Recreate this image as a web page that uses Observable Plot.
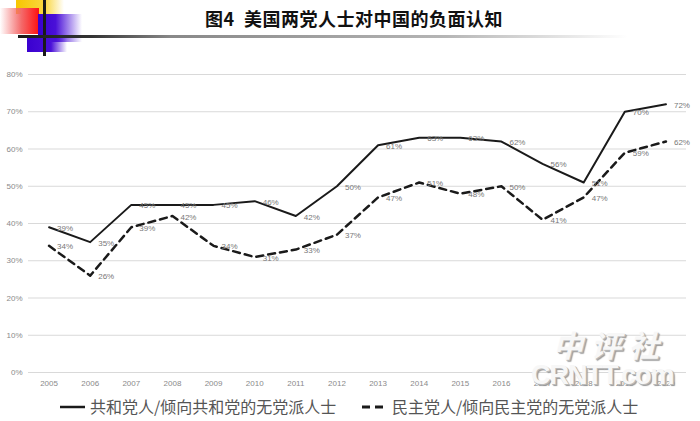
<!DOCTYPE html>
<html>
<head>
<meta charset="utf-8">
<script src="https://cdn.jsdelivr.net/npm/d3@7"></script>
<script src="https://cdn.jsdelivr.net/npm/@observablehq/plot@0.6"></script>
<style>
  html, body { margin: 0; padding: 0; background: #fff; }
  #wrap { position: relative; width: 700px; height: 421px; overflow: hidden; background: #fff;
          font-family: "Noto Sans CJK SC", "Noto Sans", sans-serif; }
  .abs { position: absolute; }
  #title { left: 0; width: 708px; top: 5px; text-align: center; font-size: 18px; font-weight: 700; color: #111; letter-spacing: 0.5px; }
  #chart { left: 0; top: 45px; }
  .leg { top: 394px; font-size: 16px; color: #555; display: flex; align-items: center; white-space: nowrap; }
  .leg svg { margin-right: 4px; }
  #wm1 { left: 553px; top: 322px; font-size: 30px; letter-spacing: 8px; color: #f7f7f7; font-style: italic; font-weight: 700;
         text-shadow: 1px 1px 0 #bbb, 2px 2px 1px #999; }
  #wm2 { left: 531px; top: 360px; font-size: 27px; letter-spacing: -1px; color: #f7f7f7; font-weight: 700; font-family: "Liberation Sans", sans-serif;
         text-shadow: 1px 1px 0 #bbb, 2px 2px 1px #999; }
</style>
</head>
<body>
<div id="wrap">
  <!-- decoration -->
  <div class="abs" style="left:16px;top:0;width:48px;height:14px;background:linear-gradient(to right,#f7c600 0%,#f9d640 60%,rgba(255,240,150,0) 100%);"></div>
  <div class="abs" style="left:0;top:8px;width:39px;height:26px;background:linear-gradient(to left,#ff1010 0%,#f46a6a 45%,rgba(255,220,220,0) 100%);"></div>
  <div class="abs" style="left:38px;top:14px;width:44px;height:28px;background:linear-gradient(to right,#3a00d0 0%,#4a10d8 40%,rgba(120,110,240,0) 100%);"></div>
  <div class="abs" style="left:27px;top:38px;width:40px;height:14px;background:linear-gradient(to right,#3a00d0 0%,#4a10d8 60%,rgba(120,110,240,0) 100%);"></div>
  <div class="abs" style="left:43px;top:0;width:3px;height:56px;background:#1a1a1a;"></div>
  <div class="abs" style="left:18px;top:35px;width:610px;height:3px;background:linear-gradient(to right,#1a1a1a 0%,#333 12%,#888 25%,#b5b5b5 70%,rgba(255,255,255,0) 100%);"></div>
  <div id="title" class="abs">图4&nbsp;&nbsp;美国两党人士对中国的负面认知</div>
  <div id="chart" class="abs"></div>
  <div id="wm1" class="abs">中评社</div>
  <div id="wm2" class="abs">CRNTT.com</div>
  <div id="leg1" class="abs leg" style="left:60px;"></div>
  <div id="leg2" class="abs leg" style="left:362px;"></div>
</div>
<script>
const years = [2005, 2006, 2007, 2008, 2009, 2010, 2011, 2012, 2013, 2014, 2015, 2016, 2017, 2018, 2019, 2020];
const repValues = [39, 35, 45, 45, 45, 46, 42, 50, 61, 63, 63, 62, 56, 51, 70, 72];
const demValues = [34, 26, 39, 42, 34, 31, 33, 37, 47, 51, 48, 50, 41, 47, 59, 62];
const yTicks = [0, 10, 20, 30, 40, 50, 60, 70, 80];
const seriesNames = ["共和党人/倾向共和党的无党派人士", "民主党人/倾向民主党的无党派人士"];

const repRows = years.map((year, i) => ({ year, value: repValues[i], series: seriesNames[0] }));
const demRows = years.map((year, i) => ({ year, value: demValues[i], series: seriesNames[1] }));

const chart = Plot.plot({
  width: 700,
  height: 350,
  marginTop: 29,
  marginBottom: 23,
  marginLeft: 28,
  marginRight: 14,
  style: { fontFamily: "'Liberation Sans', 'Open Sans', sans-serif", color: "#8a8a8a", background: "transparent" },
  x: { domain: [2004.5, 2020.5], axis: null },
  y: { domain: [0, 80], axis: null },
  marks: [
    Plot.ruleY(yTicks, { stroke: "#d9d9d9", strokeWidth: 1 }),
    Plot.axisY({ ticks: yTicks, tickSize: 0, tickPadding: 6, tickFormat: d => d + "%", fontSize: 8, fill: "#8a8a8a", label: null }),
    Plot.axisX({ ticks: years, tickSize: 0, tickPadding: 8, tickFormat: d => String(d), fontSize: 8, fill: "#8a8a8a", label: null }),
    Plot.line(repRows, { x: "year", y: "value", stroke: "#1a1a1a", strokeWidth: 2 }),
    Plot.line(demRows, { x: "year", y: "value", stroke: "#1a1a1a", strokeWidth: 2.5, strokeDasharray: "7,5" }),
    Plot.text(repRows, { x: "year", y: "value", text: d => d.value + "%", dx: 8, dy: 1, textAnchor: "start", fontSize: 8, fill: "#777" }),
    Plot.text(demRows, { x: "year", y: "value", text: d => d.value + "%", dx: 8, dy: 1, textAnchor: "start", fontSize: 8, fill: "#777" })
  ]
});
document.getElementById("chart").appendChild(chart);

function legend(id, name, dash) {
  const el = document.getElementById(id);
  el.innerHTML = `<svg width="26" height="20"><line x1="0" x2="${dash ? 22 : 25}" y1="11" y2="11" stroke="#1a1a1a" stroke-width="${dash ? 3 : 2.5}" ${dash ? 'stroke-dasharray="8,5"' : ''}/></svg><span>${name}</span>`;
}
legend("leg1", seriesNames[0], false);
legend("leg2", seriesNames[1], true);
</script>
</body>
</html>
